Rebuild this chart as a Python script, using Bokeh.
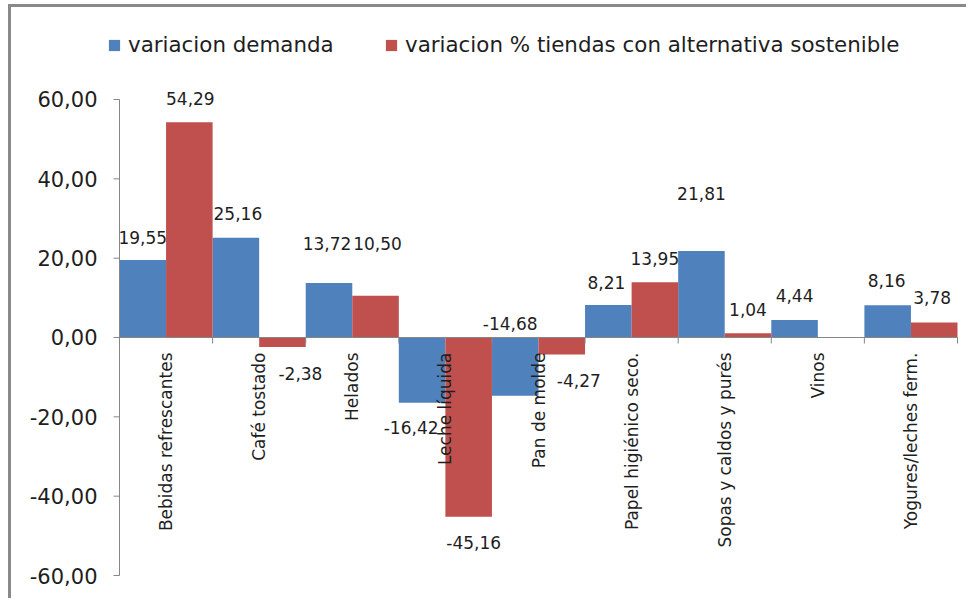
import math
from bokeh.plotting import figure
from bokeh.models import (ColumnDataSource, Range1d, FixedTicker,
                          Legend, LegendItem)
from bokeh.transform import dodge
from bokeh.core.properties import value
from bokeh.embed import file_html
from bokeh.resources import INLINE

# ---------------- data ----------------
categories = ["Bebidas refrescantes", "Café tostado", "Helados", "Leche líquida",
              "Pan de molde", "Papel higiénico seco.", "Sopas y caldos y purés",
              "Vinos", "Yogures/leches ferm."]
variacion_demanda = [19.55, 25.16, 13.72, -16.42, -14.68, 8.21, 21.81, 4.44, 8.16]
variacion_tiendas = [54.29, -2.38, 10.50, -45.16, -4.27, 13.95, 1.04, float("nan"), 3.78]
series_names = ["variacion demanda", "variacion % tiendas con alternativa sostenible"]
y_ticks = [-60, -40, -20, 0, 20, 40, 60]
y_tick_labels = ["-60,00", "-40,00", "-20,00", "0,00", "20,00", "40,00", "60,00"]

# label placement tweaks (pixels), as in the original chart
blue_dx = [0, 2, -2, -11, -5, -2, 0, 0, -1]
blue_dy = [-22, -24, -40, 25, -72, -22, -57, -24, -25]
red_dx = [1, 18, 2, 5, 17, 0, 0, 0, -2]
red_dy = [-24, 27, -52, 26, 26, -24, -24, 0, -25]

BLUE = "#4F81BD"
RED = "#C0504D"
AXIS = "#868686"
TEXT = "#1e1e1e"
FONT = "DejaVu Sans"

W, H = 958, 594
PX_X = 93.111       # pixels per category
PX_Y = 3.9667       # pixels per unit on the value axis
TICK = 6            # tick length in pixels


def fmt(v):
    if v is None or (isinstance(v, float) and math.isnan(v)):
        return ""
    return f"{v:.2f}".replace(".", ",")


n = len(categories)
src = ColumnDataSource(dict(
    pos=list(range(n)),
    cat=categories,
    dem=variacion_demanda,
    tie=variacion_tiendas,
    dem_lbl=[fmt(v) for v in variacion_demanda],
    tie_lbl=[fmt(v) for v in variacion_tiendas],
    bdx=blue_dx, bdy=blue_dy, rdx=red_dx, rdy=red_dy,
    zero=[0] * n,
))

p = figure(width=W, height=H,
           x_range=Range1d(-19 / PX_X, n + 3 / PX_X),
           y_range=Range1d(-60 - 26 / PX_Y, 60 + 92 / PX_Y),
           x_axis_location=None,
           toolbar_location=None, output_backend="svg",
           min_border_left=89, min_border_right=9,
           min_border_top=0, min_border_bottom=0,
           outline_line_color=None)
p.styles = {"margin-left": "8px", "margin-top": "4px",
            "border-left": "3px solid #898989", "border-top": "3px solid #898989"}
p.grid.visible = False

r1 = p.vbar(x=dodge("pos", 0.25), top="dem", width=0.5,
            source=src, fill_color=BLUE, line_color=None)
r2 = p.vbar(x=dodge("pos", 0.75), top="tie", width=0.5,
            source=src, fill_color=RED, line_color=None)

# category axis line at zero and boundary ticks
p.segment(x0=0, x1=n, y0=0, y1=0, line_color=AXIS, line_width=1)
p.segment(x0=dodge("pos", 1), x1=dodge("pos", 1), y0="zero", y1=-TICK / PX_Y,
          source=src, line_color=AXIS, line_width=1)

# value axis line and ticks
tick_src = ColumnDataSource(dict(y=y_ticks))
p.segment(x0=0, x1=0, y0=y_ticks[0], y1=y_ticks[-1], line_color=AXIS, line_width=1)
p.segment(x0=-TICK / PX_X, x1=0, y0="y", y1="y", source=tick_src,
          line_color=AXIS, line_width=1)

# value labels
p.text(x=dodge("pos", 0.25), y="dem", text="dem_lbl",
       x_offset="bdx", y_offset="bdy", source=src,
       text_align="center", text_baseline="middle",
       text_font=value(FONT), text_font_size="17px", text_color=TEXT)
p.text(x=dodge("pos", 0.75), y="tie", text="tie_lbl",
       x_offset="rdx", y_offset="rdy", source=src,
       text_align="center", text_baseline="middle",
       text_font=value(FONT), text_font_size="17px", text_color=TEXT)

# category labels hanging from the zero line
p.text(x=dodge("pos", 0.5), y="zero", text="cat", source=src, angle=math.pi / 2,
       y_offset=15, text_align="right", text_baseline="middle",
       text_font=value(FONT), text_font_size="17px", text_color=TEXT)

# y axis (labels only; line and ticks drawn above at the category origin)
ya = p.yaxis[0]
ya.ticker = FixedTicker(ticks=y_ticks)
ya.major_label_overrides = {t: l for t, l in zip(y_ticks, y_tick_labels)}
ya.axis_line_color = None
ya.major_tick_line_color = None
ya.minor_tick_line_color = None
ya.major_tick_out = 0
ya.major_tick_in = 0
ya.major_label_standoff = 3
ya.major_label_text_font = FONT
ya.major_label_text_font_size = "21px"
ya.major_label_text_color = TEXT

# legends
for name, rend, loc in [(series_names[0], r1, (7, 544)), (series_names[1], r2, (284, 544))]:
    leg = Legend(items=[LegendItem(label=name, renderers=[rend])], location=loc,
                 orientation="horizontal", padding=0, margin=0, spacing=0,
                 border_line_color=None, background_fill_alpha=0,
                 glyph_width=14, glyph_height=14, label_standoff=7,
                 label_height=24,
                 label_text_font=FONT, label_text_font_size="21.4px",
                 label_text_color=TEXT)
    p.add_layout(leg)

open("out.html", "w").write(file_html(p, INLINE))
